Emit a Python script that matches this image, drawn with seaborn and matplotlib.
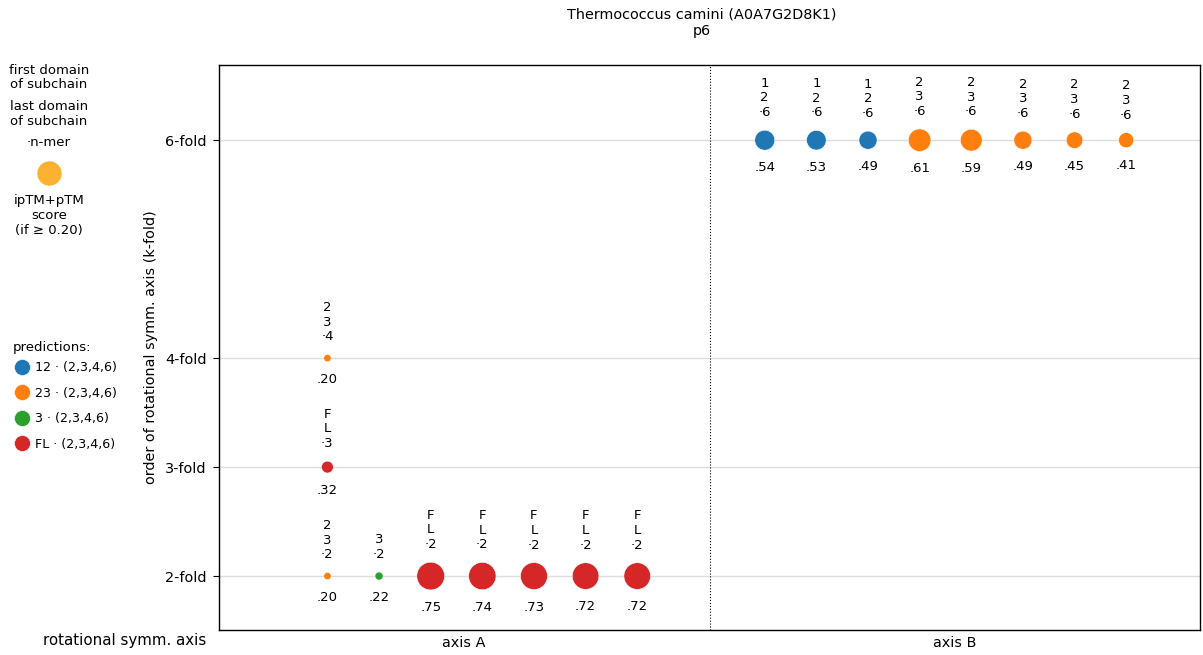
import matplotlib
matplotlib.use("Agg")
import matplotlib.pyplot as plt
from matplotlib.lines import Line2D
import numpy as np
import pandas as pd
import seaborn as sns

# ---------------- data ----------------
title = "Thermococcus camini (A0A7G2D8K1)\np6"
axis_names = ["axis A", "axis B"]
fold_ticks = [2, 3, 4, 6]
fold_ticklabels = ["2-fold", "3-fold", "4-fold", "6-fold"]

axA_subchain = ["23", "FL", "23", "3", "FL", "FL", "FL", "FL", "FL"]
axA_nmer = [4, 3, 2, 2, 2, 2, 2, 2, 2]
axA_score = [0.20, 0.32, 0.20, 0.22, 0.75, 0.74, 0.73, 0.72, 0.72]
axA_slot = [0, 0, 0, 1, 2, 3, 4, 5, 6]

axB_subchain = ["12", "12", "12", "23", "23", "23", "23", "23"]
axB_nmer = [6, 6, 6, 6, 6, 6, 6, 6]
axB_score = [0.54, 0.53, 0.49, 0.61, 0.59, 0.49, 0.45, 0.41]
axB_slot = [0, 1, 2, 3, 4, 5, 6, 7]

subchains = ["12", "23", "3", "FL"]
legend_labels = ["12 · (2,3,4,6)", "23 · (2,3,4,6)", "3 · (2,3,4,6)", "FL · (2,3,4,6)"]
palette = {"12": "#1f77b4", "23": "#ff7f0e", "3": "#2ca02c", "FL": "#d62728"}

# ---------------- layout ----------------
W, H, DPI = 1203, 655, 100
XMAX = 19.0
DIV = 9.5
startA, startB = 2.1, 10.57
PX2PT = 72.0 / DPI
DIAM_PER_SCORE = 37.0  # px

df = pd.DataFrame({
    "axis": ["A"] * len(axA_slot) + ["B"] * len(axB_slot),
    "subchain": axA_subchain + axB_subchain,
    "nmer": axA_nmer + axB_nmer,
    "score": axA_score + axB_score,
    "slot": axA_slot + axB_slot,
})
df["x"] = np.where(df["axis"] == "A", startA + df["slot"], startB + df["slot"])
df["diam_px"] = DIAM_PER_SCORE * df["score"]
df["s"] = (df["diam_px"] * PX2PT) ** 2

sns.set_style("white")
plt.rcParams["font.family"] = ["DejaVu Sans"]
plt.rcParams["font.size"] = 10
for k in ["text.color", "axes.labelcolor", "xtick.color", "ytick.color"]:
    plt.rcParams[k] = "black"

BIG = 10.4
FS = 9.5
LS = 1.2

fig = plt.figure(figsize=(W / DPI, H / DPI), dpi=DPI)
ax = fig.add_axes([219 / W, 1 - 630 / H, (1200 - 219) / W, (630 - 65) / H])

sns.scatterplot(data=df, x="x", y="nmer", hue="subchain", palette=palette,
                s=df["s"].values, edgecolor="white", linewidth=0.4,
                legend=False, ax=ax, zorder=3)

for _, r in df.iterrows():
    rad = r["diam_px"] / 2
    top = "\n".join(list(r["subchain"]) + ["·" + str(r["nmer"])])
    ax.annotate(top, (r["x"], r["nmer"]), xytext=(0, (rad + 11) * PX2PT),
                textcoords="offset points", ha="center", va="bottom",
                fontsize=FS, linespacing=1.17)
    ax.annotate(("%.2f" % r["score"])[1:], (r["x"], r["nmer"]),
                xytext=(0, -(rad + 11) * PX2PT), textcoords="offset points",
                ha="center", va="top", fontsize=FS)

ax.set_xlim(0, XMAX)
ax.set_ylim(1.505, 6.69)
ax.axvline(DIV, color="black", linestyle=":", linewidth=0.8, zorder=2)
ax.set_xticks([DIV / 2, DIV + (XMAX - DIV) / 2])
ax.set_xticklabels(axis_names, fontsize=BIG)
ax.tick_params(axis="x", length=0, pad=4)
ax.set_yticks(fold_ticks)
ax.set_yticklabels(fold_ticklabels, fontsize=BIG)
ax.tick_params(axis="y", length=4.5, width=0.8, color="black", left=True, pad=4.5)
ax.yaxis.grid(True, color="#dddddd", linewidth=1)
ax.set_axisbelow(True)
ax.set_xlabel("")
ax.set_ylabel("order of rotational symm. axis (k-fold)", fontsize=BIG, labelpad=5)
for sp in ax.spines.values():
    sp.set_color("black")
    sp.set_linewidth(1.0)

fig.suptitle(title, fontsize=BIG, y=1 - 8 / H, va="top", x=702 / W,
             linespacing=1.22)

fig.text(125 / W, 1 - 641 / H, "rotational symm. axis", ha="center", va="center", fontsize=10.8)

# key on the left
fig.text(49 / W, 1 - 77.5 / H, "first domain\nof subchain", ha="center", va="center", fontsize=FS, linespacing=LS)
fig.text(49 / W, 1 - 114 / H, "last domain\nof subchain", ha="center", va="center", fontsize=FS, linespacing=LS)
fig.text(49 / W, 1 - 142 / H, "·n-mer", ha="center", va="center", fontsize=FS)
ax.scatter([49 / W], [1 - 173 / H], s=(25 * PX2PT) ** 2, color="#fbb231",
           transform=fig.transFigure, clip_on=False, edgecolor="white", linewidth=0.4)
fig.text(49 / W, 1 - 215.5 / H, "ipTM+pTM\nscore\n(if ≥ 0.20)", ha="center", va="center", fontsize=FS, linespacing=LS)

fig.text(13 / W, 1 - 347 / H, "predictions:", ha="left", va="center", fontsize=FS)
handles = [Line2D([], [], marker="o", linestyle="", markersize=16 * PX2PT,
                  color=palette[k], markeredgecolor="white", markeredgewidth=0.4)
           for k in subchains]
fig.legend(handles, legend_labels, loc="upper left",
           bbox_to_anchor=(12 / W, 1 - 361 / H), frameon=False, fontsize=9.1,
           handletextpad=0.2, labelspacing=1.0, handlelength=1.6,
           borderaxespad=0, borderpad=0)

fig.savefig("out.png", dpi=DPI)
